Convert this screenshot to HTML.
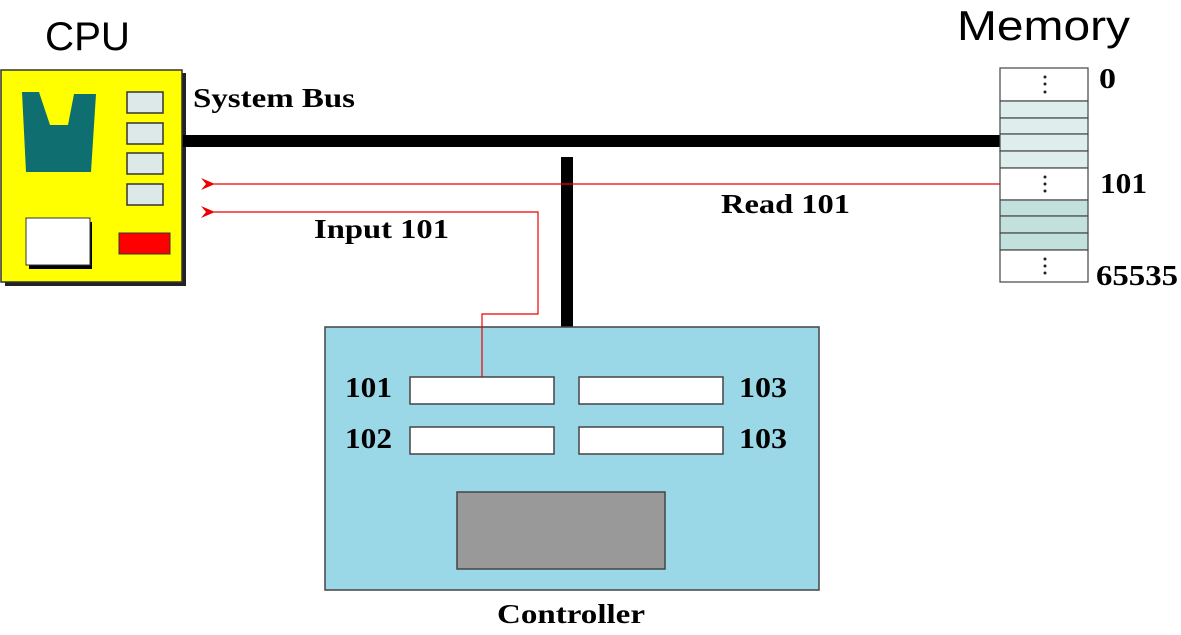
<!DOCTYPE html>
<html><head><style>body{margin:0;background:#fff}svg{display:block}</style></head><body>
<svg width="1181" height="635" xmlns="http://www.w3.org/2000/svg" font-family="Liberation Serif, serif" font-weight="bold">
<defs><marker id="a" markerWidth="14" markerHeight="12" refX="1" refY="6" orient="auto" markerUnits="userSpaceOnUse"><path d="M14,0 L0,6 L14,12 L9,6 Z" fill="#e00"/></marker></defs>
<text x="45" y="50" font-family="Liberation Sans, sans-serif" font-weight="normal" font-size="40" textLength="85" lengthAdjust="spacingAndGlyphs">CPU</text>
<text x="957" y="40" font-family="Liberation Sans, sans-serif" font-weight="normal" font-size="42" textLength="173" lengthAdjust="spacingAndGlyphs">Memory</text>
<!-- CPU -->
<rect x="5" y="73" width="181" height="213" fill="#222"/>
<rect x="1" y="70" width="181" height="212" fill="#ffff00" stroke="#333" stroke-width="1.5"/>
<path d="M22,92 L39,92 L50,125 L68,125 L74,94 L96,94 L91,172 L26,172 Z" fill="#0e6e70"/>
<rect x="127" y="92" width="36" height="21" fill="#dde9e8" stroke="#333" stroke-width="1.5"/>
<rect x="127" y="123" width="36" height="21" fill="#dde9e8" stroke="#333" stroke-width="1.5"/>
<rect x="127" y="153" width="36" height="21" fill="#dde9e8" stroke="#333" stroke-width="1.5"/>
<rect x="127" y="184" width="36" height="21" fill="#dde9e8" stroke="#333" stroke-width="1.5"/>
<rect x="29" y="222" width="63" height="47" fill="#000"/>
<rect x="26" y="218" width="64" height="47" fill="#fff" stroke="#333"/>
<rect x="119" y="233" width="51" height="21" fill="#f00" stroke="#333"/>
<text x="193" y="107" font-size="27" textLength="162" lengthAdjust="spacingAndGlyphs">System Bus</text>
<!-- bus -->
<rect x="183" y="135" width="818" height="12" fill="#000"/>
<rect x="561" y="157" width="12" height="170" fill="#000"/>
<text x="721" y="213" font-size="27" textLength="129" lengthAdjust="spacingAndGlyphs">Read 101</text>
<text x="314" y="238" font-size="27" textLength="135" lengthAdjust="spacingAndGlyphs">Input 101</text>
<!-- memory -->
<g stroke="#444" stroke-width="1.2">
<rect x="1000" y="68" width="88" height="33" fill="#fff"/>
<rect x="1000" y="101" width="88" height="17" fill="#deeeec"/>
<rect x="1000" y="118" width="88" height="16" fill="#deeeec"/>
<rect x="1000" y="134" width="88" height="17" fill="#deeeec"/>
<rect x="1000" y="151" width="88" height="17" fill="#deeeec"/>
<rect x="1000" y="168" width="88" height="32" fill="#fff"/>
<rect x="1000" y="200" width="88" height="16" fill="#c2e0dc"/>
<rect x="1000" y="216" width="88" height="17" fill="#c2e0dc"/>
<rect x="1000" y="233" width="88" height="17" fill="#c2e0dc"/>
<rect x="1000" y="250" width="88" height="32" fill="#fff"/>
</g>
<g fill="#222"><circle cx="1045" cy="77" r="1.5"/><circle cx="1045" cy="84" r="1.5"/><circle cx="1045" cy="92" r="1.5"/>
<circle cx="1045" cy="177" r="1.5"/><circle cx="1045" cy="184" r="1.5"/><circle cx="1045" cy="191" r="1.5"/>
<circle cx="1045" cy="259" r="1.5"/><circle cx="1045" cy="266" r="1.5"/><circle cx="1045" cy="273" r="1.5"/></g>
<text x="1099" y="88" font-size="28" textLength="17" lengthAdjust="spacingAndGlyphs">0</text>
<text x="1100" y="193" font-size="28" textLength="47" lengthAdjust="spacingAndGlyphs">101</text>
<text x="1096" y="285" font-size="28" textLength="82" lengthAdjust="spacingAndGlyphs">65535</text>
<!-- controller -->
<rect x="325" y="327" width="494" height="263" fill="#9ad8e8" stroke="#444" stroke-width="1.5"/>
<g stroke="#444" stroke-width="1.5" fill="#fff">
<rect x="410" y="377" width="144" height="27"/><rect x="579" y="377" width="144" height="27"/>
<rect x="410" y="427" width="144" height="27"/><rect x="579" y="427" width="144" height="27"/>
<rect x="457" y="492" width="208" height="77" fill="#999"/>
</g>
<!-- red lines -->
<line x1="1000" y1="184" x2="214" y2="184" stroke="#e00" stroke-width="1.2" marker-end="url(#a)"/>
<polyline points="482,377 482,314 538,314 538,212 214,212" fill="none" stroke="#e00" stroke-width="1.2" marker-end="url(#a)"/>
<text x="345" y="397" font-size="28" textLength="47" lengthAdjust="spacingAndGlyphs">101</text>
<text x="345" y="448" font-size="28" textLength="47" lengthAdjust="spacingAndGlyphs">102</text>
<text x="739" y="397" font-size="28" textLength="48" lengthAdjust="spacingAndGlyphs">103</text>
<text x="739" y="448" font-size="28" textLength="48" lengthAdjust="spacingAndGlyphs">103</text>
<text x="497" y="623" font-size="27" textLength="148" lengthAdjust="spacingAndGlyphs">Controller</text>
</svg>
</body></html>
